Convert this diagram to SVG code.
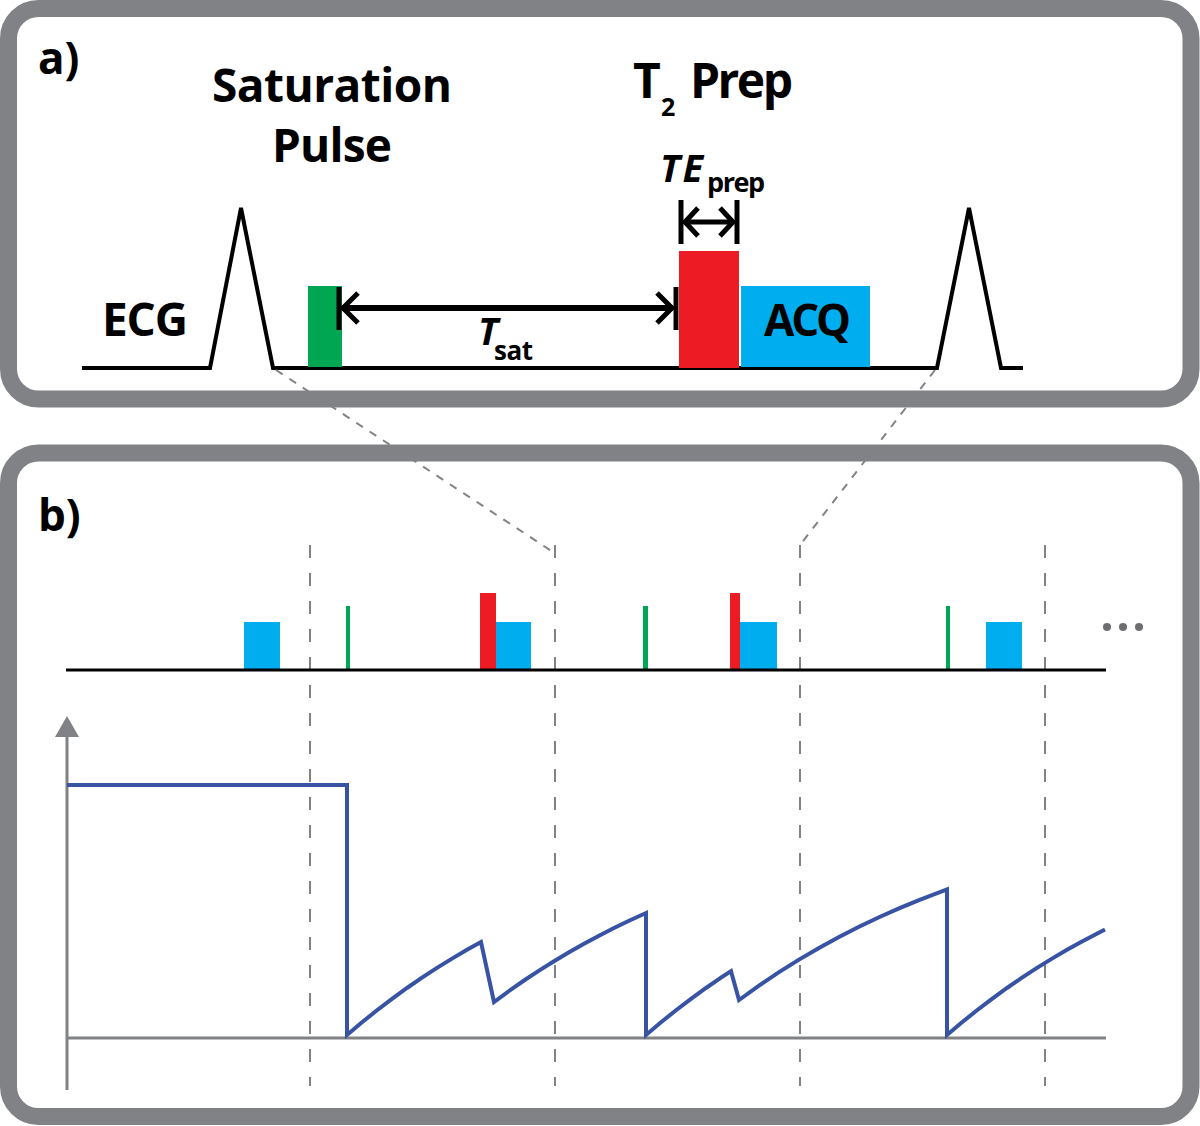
<svg xmlns="http://www.w3.org/2000/svg" width="1200" height="1126" viewBox="0 0 1200 1126">
<style>
.panel{fill:#ffffff;stroke:#808285;stroke-width:17}
.lbl{font-family:"Open Sans","Noto Sans","Liberation Sans",sans-serif;font-weight:700;fill:#000}
.it{font-style:italic}
.blk{stroke:#000;fill:none}
.grn{fill:#00a651}
.red{fill:#ed1c24}
.blu{fill:#00aeef}
.dash{stroke:#808285;stroke-width:2;fill:none;stroke-dasharray:13 15}
.diag{stroke:#808285;stroke-width:2;fill:none;stroke-dasharray:8 8}
.axis{stroke:#808285;stroke-width:3;fill:none}
</style>
<rect width="1200" height="1126" fill="#ffffff"/>
<g id="panel-a">
<rect class="panel" x="8.5" y="8.5" width="1182.5" height="390.5" rx="30"/>
<text class="lbl" x="38" y="74" font-size="44">a)</text>
<text class="lbl" x="212" y="102" font-size="46" textLength="240">Saturation</text>
<text class="lbl" x="272" y="162" font-size="46" textLength="120">Pulse</text>
<text class="lbl" x="633" y="98" font-size="48">T</text>
<text class="lbl" x="661" y="116" font-size="25">2</text>
<text class="lbl" x="690" y="98" font-size="48" textLength="103">Prep</text>
</g>
<g id="ecg">
<text class="lbl" x="102" y="336" font-size="46" textLength="86">ECG</text>
<path class="blk" stroke-width="4" d="M82 368 L210 368 L241 208 L273 368 L937 368 L969 208 L1001 368 L1023 368"/>
</g>
<g id="sat-pulse">
<rect class="grn" x="308" y="286" width="34" height="81"/>
</g>
<g id="t2prep">
<rect class="red" x="679" y="251" width="60" height="117"/>
</g>
<g id="acq">
<rect class="blu" x="741" y="286" width="129" height="81"/>
<text class="lbl" x="764" y="336" font-size="44" textLength="87">ACQ</text>
</g>
<g id="tsat">
<line class="blk" stroke-width="5" x1="339" y1="287" x2="339" y2="330"/>
<line class="blk" stroke-width="5" x1="676" y1="287" x2="676" y2="330"/>
<line class="blk" stroke-width="6" x1="342" y1="308" x2="673" y2="308"/>
<path class="blk" stroke-width="5" d="M358 293 L343 308 L358 323"/>
<path class="blk" stroke-width="5" d="M657 293 L672 308 L657 323"/>
<text class="lbl it" x="478" y="345" font-size="38">T</text>
<text class="lbl" x="494" y="360" font-size="26" textLength="39">sat</text>
</g>
<g id="teprep">
<line class="blk" stroke-width="5" x1="681" y1="200" x2="681" y2="244"/>
<line class="blk" stroke-width="5" x1="737" y1="200" x2="737" y2="244"/>
<line class="blk" stroke-width="5" x1="684" y1="222" x2="734" y2="222"/>
<path class="blk" stroke-width="5" d="M698 208 L685 222 L698 236"/>
<path class="blk" stroke-width="5" d="M720 208 L733 222 L720 236"/>
<text class="lbl it" x="660" y="182" font-size="38" textLength="43">TE</text>
<text class="lbl" x="707" y="192" font-size="27" textLength="58">prep</text>
</g>
<g id="panel-b">
<rect class="panel" x="8.5" y="453" width="1182.5" height="663.5" rx="30"/>
<text class="lbl" x="38" y="531" font-size="44">b)</text>
</g>
<g id="connectors">
<line class="diag" x1="276" y1="370" x2="553" y2="552"/>
<line class="diag" x1="935" y1="370" x2="800" y2="545"/>
<line class="dash" x1="310" y1="545" x2="310" y2="1086"/>
<line class="dash" x1="555" y1="545" x2="555" y2="1086"/>
<line class="dash" x1="800" y1="545" x2="800" y2="1086"/>
<line class="dash" x1="1045" y1="545" x2="1045" y2="1086"/>
</g>
<g id="pulse-train">
<rect class="blu" x="244" y="622" width="36" height="48"/>
<rect class="grn" x="346" y="606" width="4" height="64"/>
<rect class="red" x="480" y="593" width="16" height="77"/>
<rect class="blu" x="496" y="622" width="35" height="48"/>
<rect class="grn" x="643" y="606" width="5" height="64"/>
<rect class="red" x="730" y="593" width="10" height="77"/>
<rect class="blu" x="740" y="622" width="37" height="48"/>
<rect class="grn" x="946" y="606" width="4" height="64"/>
<rect class="blu" x="986" y="622" width="36" height="48"/>
<line class="blk" stroke-width="3" x1="66" y1="670" x2="1106" y2="670"/>
<g fill="#6d6e71">
<circle cx="1107" cy="627" r="4"/>
<circle cx="1123" cy="627" r="4"/>
<circle cx="1139" cy="627" r="4"/>
</g>
</g>
<g id="magnetization-plot">
<line class="axis" x1="67" y1="1090" x2="67" y2="735"/>
<polygon fill="#808285" points="55,737 79,737 67,716"/>
<line class="axis" x1="67" y1="1038" x2="1106" y2="1038"/>
<polyline fill="none" stroke="#3953a4" stroke-width="4" stroke-linejoin="miter" points="67,785 347,785 347,1035 362,1022.3 377,1010.3 392,998.8 407,988 422,977.7 437,967.9 452,958.6 467,949.8 481,942 494,1002 509,991 524,980.5 539,970.6 554,961.2 569,952.2 584,943.8 599,935.7 614,928 629,920.8 646,913 646,1035 661,1022.3 676,1010.3 691,998.8 706,988 721,977.7 731,971.1 739,1000 759,985.6 779,972.1 799,959.6 819,947.9 839,936.9 859,926.7 879,917.2 899,908.4 919,900.1 947,889.4 947,1035 962,1022.3 977,1010.3 992,998.8 1007,988 1022,977.7 1037,967.9 1052,958.6 1067,949.8 1082,941.5 1105,929.4"/>
</g>
</svg>
